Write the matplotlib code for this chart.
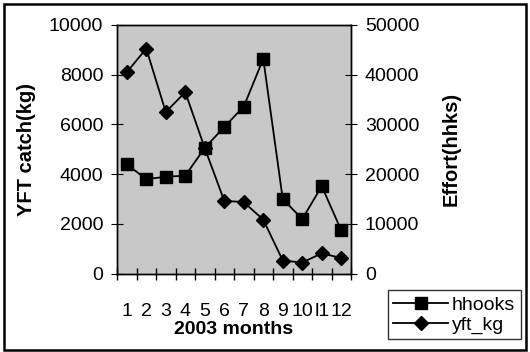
import numpy as np
import matplotlib.pyplot as plt
from matplotlib.patches import Rectangle

plt.rcParams["font.family"] = ["Liberation Sans", "DejaVu Sans"]

# Data
months = [1, 2, 3, 4, 5, 6, 7, 8, 9, 10, 11, 12]
month_labels = ["1", "2", "3", "4", "5", "6", "7", "8", "9", "10", "l1", "12"]
hhooks = [22000, 19000, 19500, 19700, 25300, 29500, 33600, 43200, 15000, 11000, 17600, 8700]
yft_kg = [8100, 9050, 6500, 7300, 5050, 2930, 2880, 2170, 530, 450, 820, 630]

fig = plt.figure(figsize=(5.3, 3.52), dpi=100)
fig.patches.append(Rectangle((0.008, 0.006), 0.984, 0.982, transform=fig.transFigure,
                             fill=False, edgecolor="black", linewidth=1.8))

ax = fig.add_axes([0.2208, 0.2224, 0.4415, 0.7066])
ax2 = ax.twinx()

ax.set_facecolor("#c8c8c8")
ax.set_xlim(0.5, 12.5)
ax.set_ylim(0, 10000)
ax2.set_ylim(0, 50000)

(l_yft,) = ax.plot(months, yft_kg, color="black", marker="D", markersize=7, linewidth=1.3)
(l_hh,) = ax2.plot(months, hhooks, color="black", marker="s", markersize=8, linewidth=1.3)

ax.set_yticks(np.arange(0, 10001, 2000))
ax2.set_yticks(np.arange(0, 50001, 10000))
ax.set_xticks(months)
ax.set_xticklabels(month_labels)
ax.set_xticks(np.arange(0.5, 12.6, 1), minor=True)
ax.tick_params(axis="x", which="major", length=0, pad=21, labelsize=14)
ax.tick_params(axis="x", which="minor", length=8, direction="inout", width=1)
ax.tick_params(axis="y", length=8, direction="inout", labelsize=14, pad=6)
ax2.tick_params(axis="y", length=8, direction="inout", labelsize=14, pad=6)

for a in (ax, ax2):
    for s in a.spines.values():
        s.set_linewidth(1)

ax.set_xlabel("2003 months", fontsize=14, fontweight="bold", labelpad=1)
ax.set_ylabel("YFT catch(kg)", fontsize=14.5, fontweight="bold", labelpad=9)
ax2.set_ylabel("Effort(hhks)", fontsize=14.5, fontweight="bold", labelpad=16)

leg = fig.legend([l_hh, l_yft], ["hhooks", "yft_kg"], loc="lower left",
                 bbox_to_anchor=(0.713, 0.008), fontsize=14, frameon=True,
                 fancybox=False, edgecolor="black", handlelength=2.8,
                 handletextpad=0.2, borderpad=0.3, labelspacing=0.1)
leg.get_frame().set_linewidth(1)

fig.savefig("out.png", dpi=100)
